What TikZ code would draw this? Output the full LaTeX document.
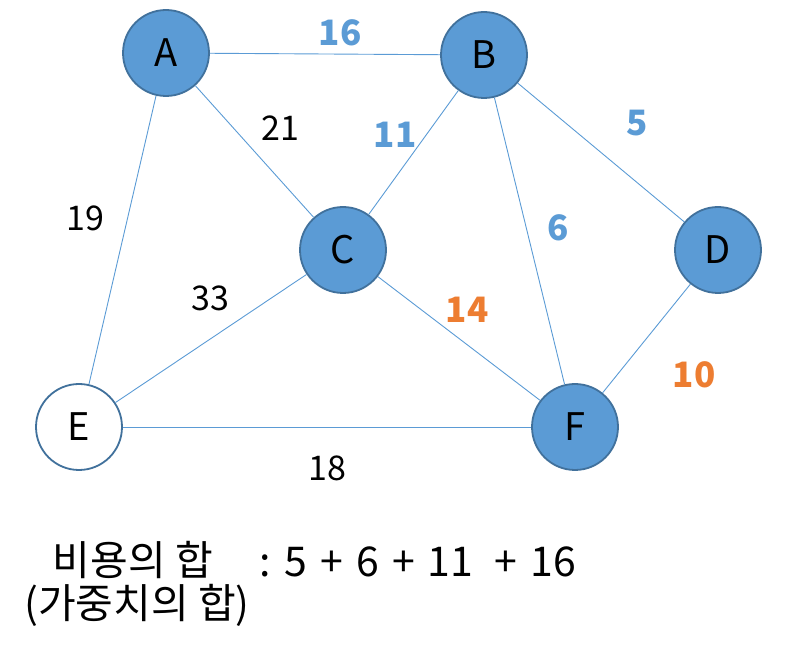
\documentclass[tikz,border=0pt]{standalone}
\usepackage{fontspec}
\setmainfont{Noto Sans CJK KR}
\usepackage{tikz}
\usetikzlibrary{positioning}

\definecolor{nodeblue}{HTML}{5B9BD5}
\definecolor{nodeline}{HTML}{41719C}
\definecolor{costorange}{HTML}{ED7D31}
\newcommand{\wgap}{\hspace{0.32em}}

\begin{document}
\begin{tikzpicture}[x=0.5pt,y=-0.5pt,
    vertex/.style={circle,draw=nodeline,line width=0.9pt,fill=nodeblue,
      minimum size=43pt,inner sep=0pt,font=\fontsize{19}{19}\selectfont},
    blank/.style={vertex,fill=white},
    edge/.style={draw=nodeblue,line width=0.45pt},
    weight/.style={font=\fontsize{17}{17}\selectfont},
    chosen/.style={weight,text=nodeblue,font=\fontsize{17.5}{17.5}\selectfont\bfseries},
    skipped/.style={weight,text=costorange,font=\fontsize{17.5}{17.5}\selectfont\bfseries},
    total/.style={font=\fontsize{20.5}{20.5}\selectfont}]
  \useasboundingbox (0,0) rectangle (805,651);
  % 정점
  \node[vertex] (A) at (166,53) {A};
  \node[vertex] (B) at (484,55) {B};
  \node[vertex] (C) at (343,250) {C};
  \node[vertex] (D) at (718,250) {D};
  \node[blank]  (E) at (79,427) {E};
  \node[vertex] (F) at (575,427) {F};
  % 간선
  \draw[edge] (A) -- (B);
  \draw[edge] (A) -- (C);
  \draw[edge] (A) -- (E);
  \draw[edge] (B) -- (C);
  \draw[edge] (B) -- (D);
  \draw[edge] (B) -- (F);
  \draw[edge] (C) -- (E);
  \draw[edge] (C) -- (F);
  \draw[edge] (D) -- (F);
  \draw[edge] (E) -- (F);
  % 가중치
  \node[chosen]  (wAB) at (340,33)  {16};
  \node[weight]  (wAC) at (280,128) {21};
  \node[chosen]  (wBC) at (395,135) {11};
  \node[chosen]  (wBD) at (637,123) {5};
  \node[weight]  (wAE) at (85,218)  {19};
  \node[chosen]  (wBF) at (558,228) {6};
  \node[weight]  (wCE) at (210,298) {33};
  \node[skipped] (wCF) at (467,310) {14};
  \node[skipped] (wDF) at (694,375) {10};
  \node[weight]  (wEF) at (327,468) {18};
  % 비용의 합
  \node[total] (sumname) at (133,560) {비용의 합};
  \node[total] (sumeq)   at (418,562) {:\wgap5\wgap+\wgap6\wgap+\wgap11\wgap\hspace{0.2em}+\wgap16};
  \node[total] (sumsub)  at (137,605) {(가중치의 합)};
\end{tikzpicture}
\end{document}
